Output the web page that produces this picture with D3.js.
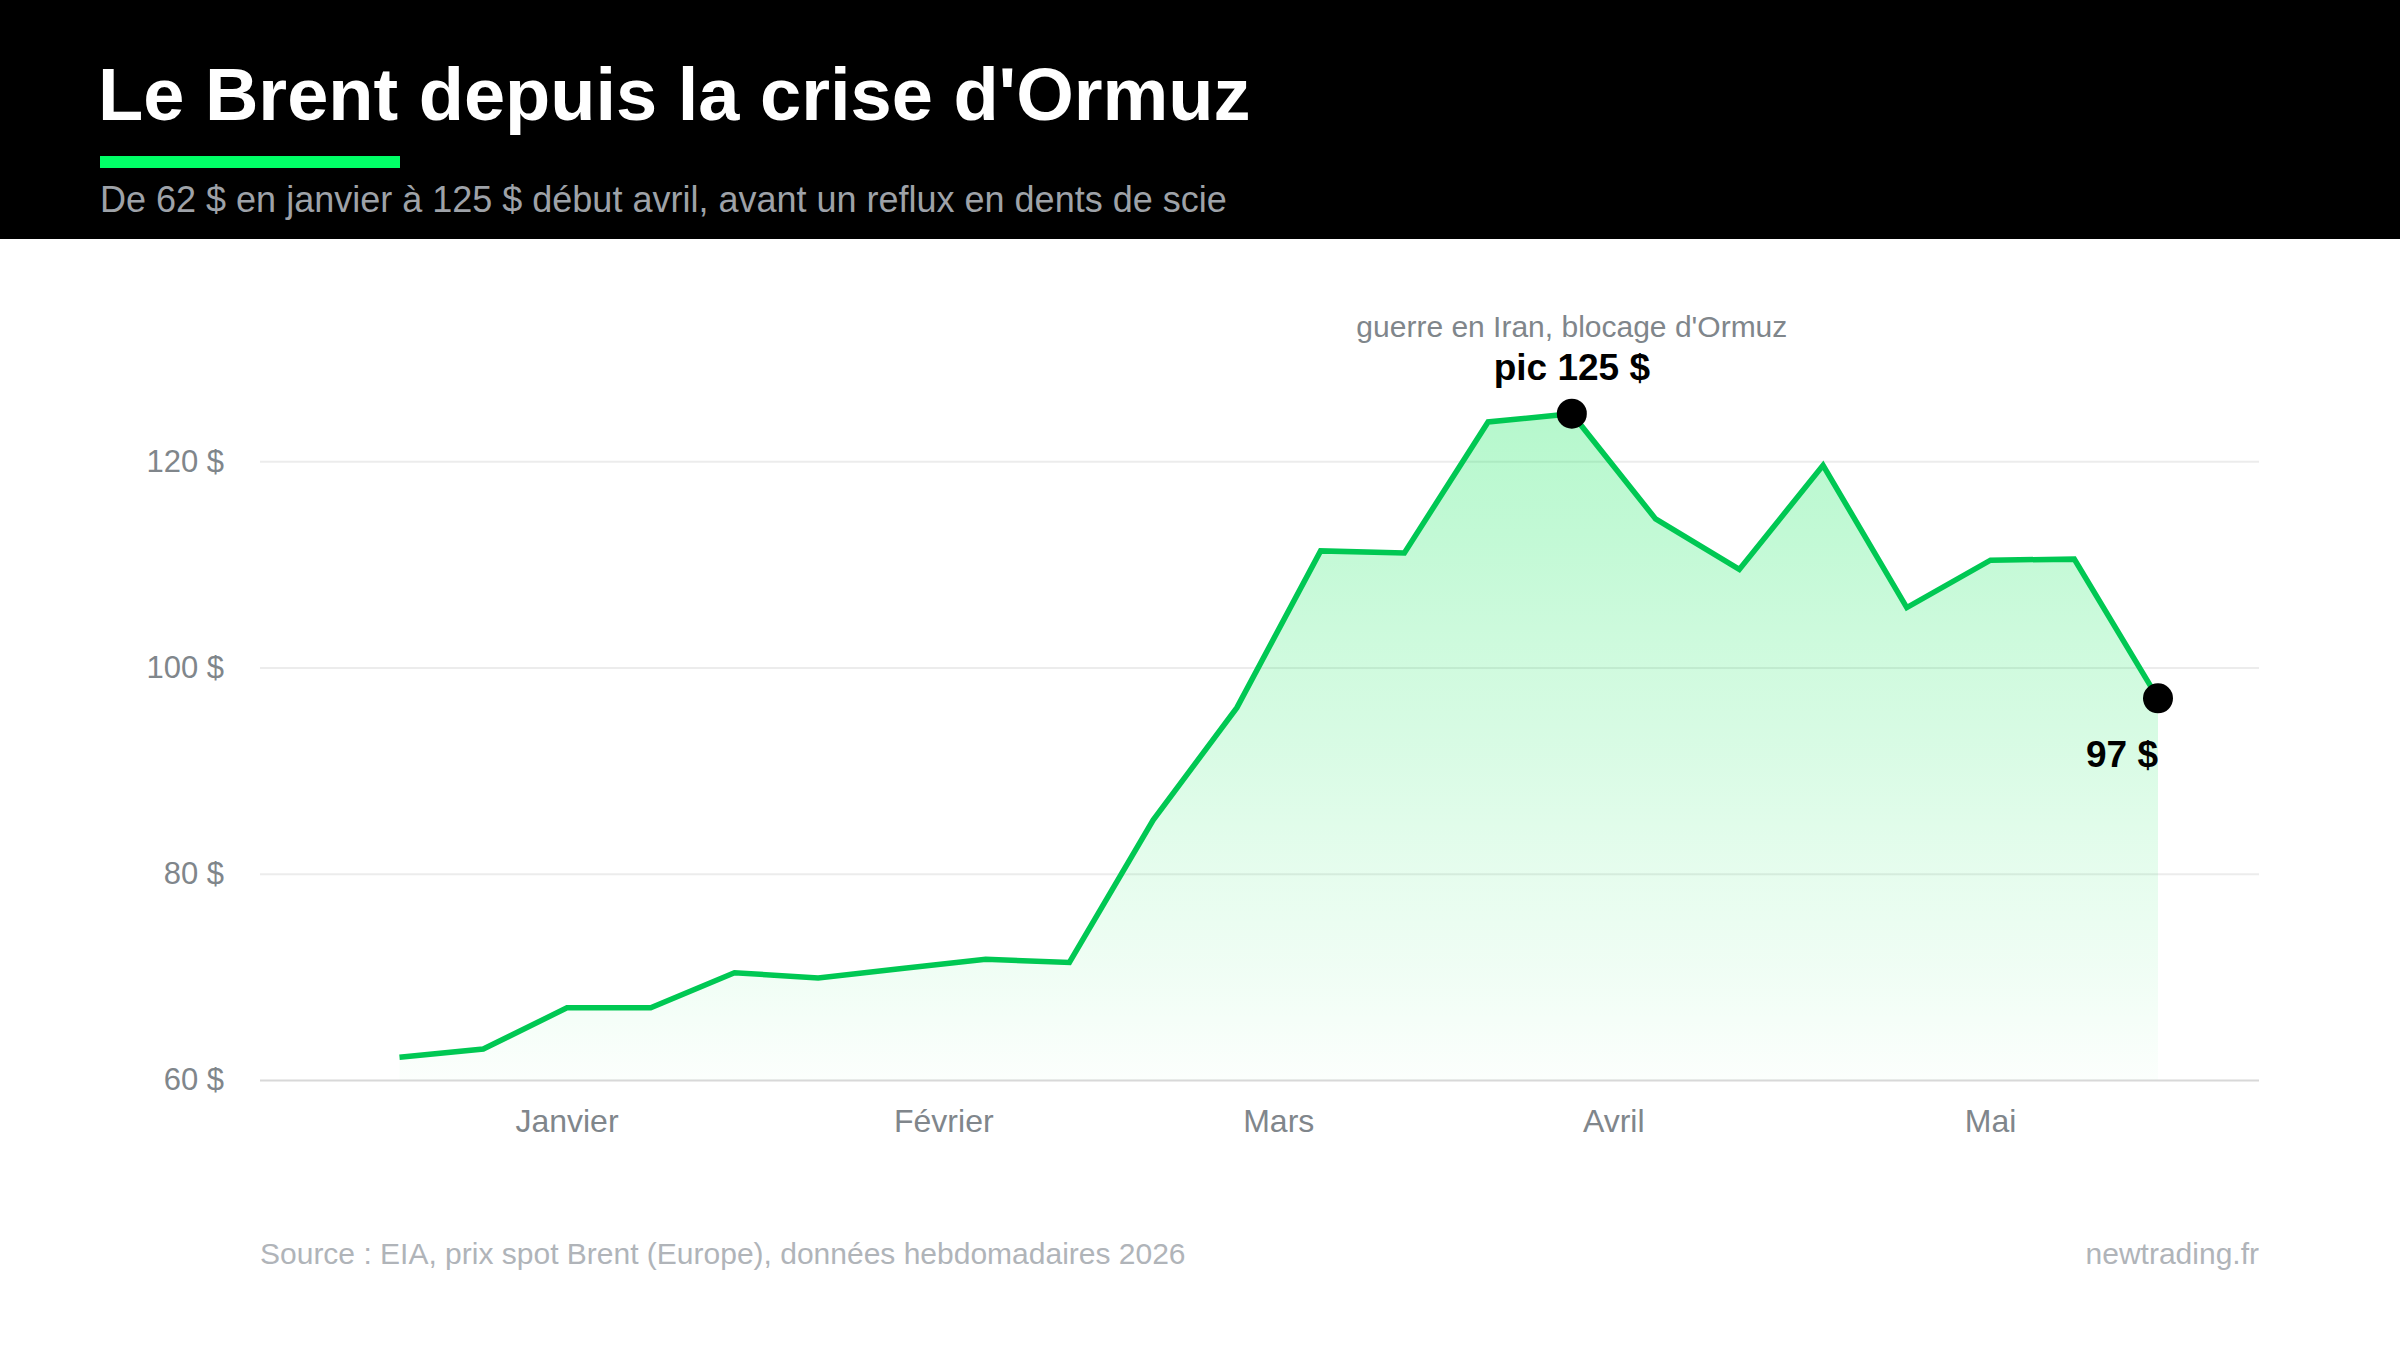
<!DOCTYPE html>
<html>
<head>
<meta charset="utf-8">
<script src="https://cdn.jsdelivr.net/npm/d3@7"></script>
<style>
  html, body { margin: 0; padding: 0; background: #ffffff; }
  svg { display: block; font-family: "Liberation Sans", Arial, Helvetica, sans-serif; }
</style>
</head>
<body>
<svg id="chart" width="2400" height="1350"></svg>
<script>
// ---- Data ----
const weeks = [
  "2026-01-02","2026-01-09","2026-01-16","2026-01-23","2026-01-30",
  "2026-02-06","2026-02-13","2026-02-20","2026-02-27",
  "2026-03-06","2026-03-13","2026-03-20","2026-03-27",
  "2026-04-03","2026-04-10","2026-04-17","2026-04-24",
  "2026-05-01","2026-05-08","2026-05-15","2026-05-22","2026-05-29"
];
const brent = [
  62.2, 63.0, 67.0, 67.0, 70.4,
  69.9, 70.8, 71.7, 71.4,
  85.2, 96.1, 111.3, 111.1,
  123.8, 124.6, 114.4, 109.5,
  119.6, 105.8, 110.4, 110.5, 97.0
];
const monthNames = ["Janvier", "Février", "Mars", "Avril", "Mai"];
const yTicks = [60, 80, 100, 120];
const title = "Le Brent depuis la crise d'Ormuz";
const subtitle = "De 62 $ en janvier à 125 $ début avril, avant un reflux en dents de scie";
const peakNote = "guerre en Iran, blocage d'Ormuz";
const peakLabel = "pic 125 $";
const lastLabel = "97 $";
const sourceText = "Source : EIA, prix spot Brent (Europe), données hebdomadaires 2026";
const brandText = "newtrading.fr";

// ---- Layout ----
const W = 2400, H = 1350;
const plot = { left: 260, right: 2259, top: 358, bottom: 1080 };
const svg = d3.select("#chart");

const data = weeks.map((w, i) => ({ week: w, value: brent[i], month: +w.slice(5, 7) - 1 }));

const x = d3.scalePoint().domain(weeks).range([399.5, 2158]);
const y = d3.scaleLinear().domain([60, 130]).range([plot.bottom, plot.top]);

// Header band
svg.append("rect").attr("x", 0).attr("y", 0).attr("width", W).attr("height", 239).attr("fill", "#000");
svg.append("text").attr("x", 98).attr("y", 120)
  .attr("fill", "#fff").attr("font-size", 74).attr("font-weight", 700)
  .text(title);
svg.append("rect").attr("x", 100).attr("y", 156).attr("width", 300).attr("height", 12).attr("fill", "#00ff66");
svg.append("text").attr("x", 100).attr("y", 212)
  .attr("fill", "#9ea2a8").attr("font-size", 36)
  .text(subtitle);

// Gradient
const defs = svg.append("defs");
const grad = defs.append("linearGradient").attr("id", "areaGrad")
  .attr("gradientUnits", "userSpaceOnUse")
  .attr("x1", 0).attr("x2", 0).attr("y1", y(125)).attr("y2", y(60));
grad.append("stop").attr("offset", "0%").attr("stop-color", "rgb(0,230,80)").attr("stop-opacity", 0.29);
grad.append("stop").attr("offset", "100%").attr("stop-color", "rgb(0,230,80)").attr("stop-opacity", 0.015);

// Grid lines
const yAxis = d3.axisLeft(y).tickValues(yTicks).tickSize(-(plot.right - plot.left)).tickPadding(36)
  .tickFormat(d => d + " $");
const gy = svg.append("g").attr("transform", `translate(${plot.left},0)`).call(yAxis);
gy.select(".domain").remove();
gy.selectAll(".tick line").attr("stroke", d => d === 60 ? "#d8d8d8" : "#ececec").attr("stroke-width", 2);
gy.selectAll(".tick text").attr("fill", "#80868b").attr("font-size", 31)
  .attr("font-family", "'Liberation Sans', Arial, sans-serif");

// Area + line
const area = d3.area().x(d => x(d.week)).y0(y(60)).y1(d => y(d.value));
const line = d3.line().x(d => x(d.week)).y(d => y(d.value));
svg.append("path").datum(data).attr("d", area).attr("fill", "url(#areaGrad)");
svg.append("path").datum(data).attr("d", line)
  .attr("fill", "none").attr("stroke", "#00c853").attr("stroke-width", 5.5)
  .attr("stroke-linejoin", "miter").attr("stroke-linecap", "butt");

// Month labels at the mean position of each month's weeks
const months = d3.groups(data, d => d.month).map(([m, arr]) => ({
  name: monthNames[m],
  xPos: d3.mean(arr, d => x(d.week))
}));
svg.append("g").selectAll("text").data(months).join("text")
  .attr("x", d => d.xPos).attr("y", 1132)
  .attr("text-anchor", "middle").attr("fill", "#80868b").attr("font-size", 32)
  .text(d => d.name);

// Highlight points
const peak = data.reduce((a, b) => (b.value > a.value ? b : a));
const last = data[data.length - 1];
svg.append("g").selectAll("circle").data([peak, last]).join("circle")
  .attr("cx", d => x(d.week)).attr("cy", d => y(d.value)).attr("r", 15).attr("fill", "#000");

svg.append("text").attr("x", x(peak.week)).attr("y", y(peak.value) - 77)
  .attr("text-anchor", "middle").attr("fill", "#80868b").attr("font-size", 30)
  .text(peakNote);
svg.append("text").attr("x", x(peak.week)).attr("y", y(peak.value) - 34)
  .attr("text-anchor", "middle").attr("fill", "#000").attr("font-size", 37).attr("font-weight", 700)
  .text(peakLabel);
svg.append("text").attr("x", x(last.week)).attr("y", y(last.value) + 69)
  .attr("text-anchor", "end").attr("fill", "#000").attr("font-size", 37).attr("font-weight", 700)
  .text(lastLabel);

// Footer
svg.append("text").attr("x", plot.left).attr("y", 1264)
  .attr("fill", "#b0b4b9").attr("font-size", 30).text(sourceText);
svg.append("text").attr("x", plot.right).attr("y", 1264).attr("text-anchor", "end")
  .attr("fill", "#b0b4b9").attr("font-size", 30).text(brandText);
</script>
</body>
</html>
